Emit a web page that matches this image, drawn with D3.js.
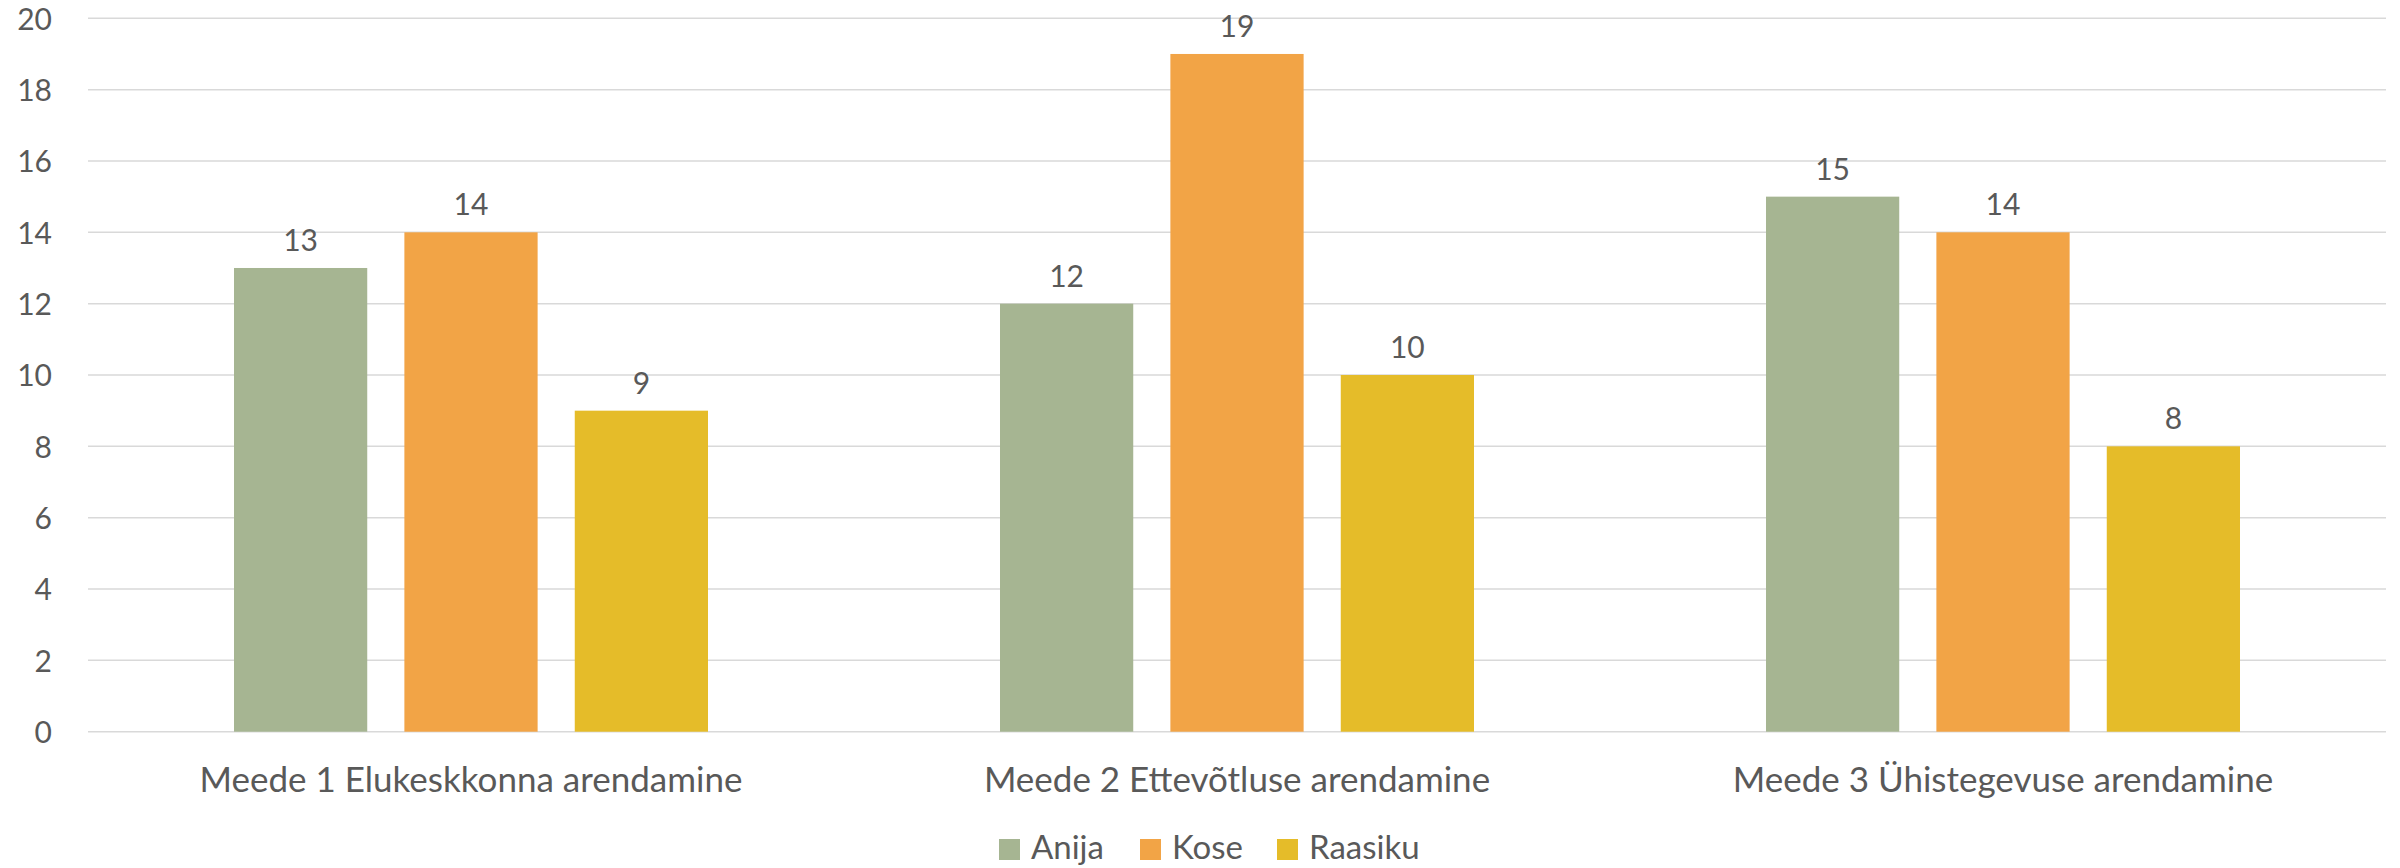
<!DOCTYPE html>
<html>
<head>
<meta charset="utf-8">
<script src="https://cdn.jsdelivr.net/npm/d3@7"></script>
<style>
  html, body { margin: 0; padding: 0; background: #fff; }
  svg { display: block; }
  text { font-family: Lato, "Open Sans", sans-serif; fill: #595959; }
</style>
</head>
<body>
<svg id="chart" width="2400" height="868"></svg>
<script>
const categories = ["Meede 1 Elukeskkonna arendamine", "Meede 2 Ettevõtluse arendamine", "Meede 3 Ühistegevuse arendamine"];
const seriesNames = ["Anija", "Kose", "Raasiku"];
const anija = [13, 12, 15];
const kose = [14, 19, 14];
const raasiku = [9, 10, 8];
const yTicks = [0, 2, 4, 6, 8, 10, 12, 14, 16, 18, 20];
const colors = ["#A6B592", "#F2A446", "#E5BC29"];

const seriesValues = [anija, kose, raasiku];

const svg = d3.select("#chart");
const margin = { left: 88, right: 14, top: 18.3, bottom: 136.3 };
const W = 2400, H = 868;

const x0 = d3.scaleBand().domain(categories).range([margin.left, W - margin.right]).padding(0);
const groupPad = 146;
const x1 = d3.scaleBand().domain(seriesNames)
  .range([groupPad, x0.bandwidth() - groupPad]).paddingInner(0.218).paddingOuter(0);
const y = d3.scaleLinear().domain([0, 20]).range([H - margin.bottom, margin.top]);

// gridlines
svg.append("g").selectAll("line").data(yTicks).join("line")
  .attr("x1", margin.left).attr("x2", W - margin.right)
  .attr("y1", d => y(d)).attr("y2", d => y(d))
  .attr("stroke", "#D9D9D9").attr("stroke-width", 1.5);

// y axis labels
const yAxis = d3.axisLeft(y).tickValues(yTicks).tickSize(0).tickPadding(0);
const yg = svg.append("g").attr("transform", `translate(52,0)`).call(yAxis);
yg.select(".domain").remove();
yg.selectAll("text").attr("font-size", 30).attr("fill", "#595959")
  .style("font-family", "Lato, 'Open Sans', sans-serif").attr("dy", "0.36em").attr("x", 0);

// bars
const data = [];
categories.forEach((c, ci) => seriesNames.forEach((s, si) => data.push({ c, s, si, v: seriesValues[si][ci] })));

const bars = svg.append("g");
bars.selectAll("rect").data(data).join("rect")
  .attr("x", d => x0(d.c) + x1(d.s))
  .attr("width", x1.bandwidth())
  .attr("y", d => y(d.v))
  .attr("height", d => y(0) - y(d.v))
  .attr("fill", d => colors[d.si]);

// data labels
svg.append("g").selectAll("text").data(data).join("text")
  .attr("x", d => x0(d.c) + x1(d.s) + x1.bandwidth() / 2)
  .attr("y", d => y(d.v) - 17)
  .attr("text-anchor", "middle")
  .attr("font-size", 30)
  .attr("fill", "#404040")
  .text(d => d.v);

// category axis labels
const xAxis = d3.axisBottom(x0).tickSize(0).tickPadding(0);
const xg = svg.append("g").attr("transform", `translate(0,${y(0)})`).call(xAxis);
xg.select(".domain").remove();
xg.selectAll("text").attr("font-size", 35).attr("fill", "#595959")
  .style("font-family", "Lato, 'Open Sans', sans-serif")
  .attr("dy", 0).attr("y", 60);

// legend
const legendX = [999, 1140, 1277];
const lg = svg.append("g");
seriesNames.forEach((s, i) => {
  const g = lg.append("g").attr("transform", `translate(${legendX[i]},839)`);
  g.append("rect").attr("width", 21).attr("height", 21).attr("fill", colors[i]);
  g.append("text").attr("x", 32).attr("y", 20).attr("font-size", 33).text(s);
});
</script>
</body>
</html>
